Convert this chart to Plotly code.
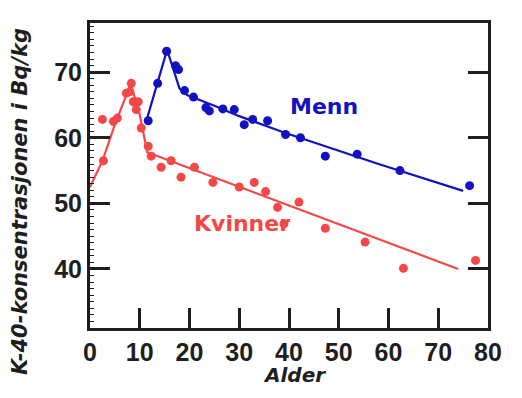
import plotly.graph_objects as go

# ---- data ----
menn_age = [11.7, 13.6, 15.4, 17.2, 17.8, 19.0, 20.8, 23.3, 24.0, 26.7, 29.0, 31.0, 32.7, 35.7, 39.3, 42.3, 47.3, 53.7, 62.3, 76.3]
menn_k40 = [62.6, 68.3, 73.2, 71.0, 70.4, 67.2, 66.2, 64.6, 64.1, 64.4, 64.3, 62.0, 62.8, 62.6, 60.5, 60.0, 57.2, 57.5, 55.0, 52.7]

kvinner_age = [2.5, 2.7, 4.7, 5.5, 7.3, 8.3, 8.0, 8.7, 9.3, 9.7, 10.3, 11.7, 12.3, 14.3, 16.3, 18.3, 21.0, 24.7, 30.0, 33.0, 35.3, 37.7, 39.0, 42.0, 47.3, 55.3, 63.0, 77.5]
kvinner_k40 = [62.8, 56.5, 62.5, 63.0, 66.8, 68.3, 67.0, 65.5, 64.3, 65.5, 61.5, 58.7, 57.2, 55.5, 56.5, 54.0, 55.5, 53.2, 52.5, 53.2, 51.8, 49.4, 46.9, 50.2, 46.2, 44.1, 40.1, 41.3]

menn_fit_age = [11.3, 13.0, 15.5, 18.0, 19.5, 25.0, 30.0, 39.0, 58.0, 75.0]
menn_fit_k40 = [62.5, 67.0, 73.4, 67.5, 66.5, 64.9, 63.3, 60.8, 56.0, 51.9]

kvinner_fit_age = [0.0, 2.5, 5.0, 8.2, 10.0, 11.5, 74.0]
kvinner_fit_k40 = [52.5, 56.5, 62.0, 68.3, 63.5, 57.8, 40.0]

x_ticks = [0, 10, 20, 30, 40, 50, 60, 70, 80]
y_ticks = [40, 50, 60, 70]
x_tick_text = ["<b>%d</b>" % v for v in x_ticks]
y_tick_text = ["<b>%d</b>" % v for v in y_ticks]

BLUE = "#1212c0"
RED = "#f24848"
INK = "#1e1e1e"
TICKFONT = dict(family="Liberation Sans, Arial", size=25, color=INK)
LABFONT = "DejaVu Sans, Liberation Sans, Arial"
Y_RANGE = [31.0, 77.5]

fig = go.Figure()
fig.add_trace(go.Scatter(x=menn_fit_age, y=menn_fit_k40, mode="lines", yaxis="y2",
                         line=dict(color=BLUE, width=2.2), hoverinfo="skip"))
fig.add_trace(go.Scatter(x=kvinner_fit_age, y=kvinner_fit_k40, mode="lines",
                         line=dict(color=RED, width=2.2), hoverinfo="skip"))
fig.add_trace(go.Scatter(x=menn_age, y=menn_k40, mode="markers",
                         marker=dict(color=BLUE, size=9), name="Menn"))
fig.add_trace(go.Scatter(x=kvinner_age, y=kvinner_k40, mode="markers",
                         marker=dict(color=RED, size=9), name="Kvinner"))

fig.update_layout(
    width=506, height=382,
    margin=dict(l=82, r=25, t=13, b=62),
    plot_bgcolor="white", paper_bgcolor="white",
    showlegend=False,
    xaxis=dict(range=[0, 80], tickvals=x_ticks, ticktext=x_tick_text, ticks="inside",
               ticklen=20, tickwidth=3, tickcolor=INK, showline=True, linewidth=3,
               linecolor=INK, mirror=True, showgrid=False, zeroline=False, tickfont=TICKFONT),
    yaxis=dict(range=Y_RANGE, tickvals=y_ticks, ticktext=y_tick_text, ticks="inside",
               ticklen=20, tickwidth=3, tickcolor=INK, showline=True, linewidth=3,
               linecolor=INK, mirror=True, showgrid=False, zeroline=False, tickfont=TICKFONT,
               minor=dict(ticks="inside", ticklen=4, tickwidth=1, tickmode="linear",
                          tick0=0, dtick=1, tickcolor=INK)),
    yaxis2=dict(range=Y_RANGE, tickvals=y_ticks, ticks="inside", ticklen=20, tickwidth=3,
                tickcolor=INK, overlaying="y", side="right", showticklabels=False,
                showline=False, showgrid=False, zeroline=False),
)

fig.add_annotation(x=47.1, y=64.8, xref="x", yref="y", text="<b>Menn</b>", showarrow=False,
                   font=dict(family=LABFONT, size=22, color=BLUE))
fig.add_annotation(x=30.5, y=47.0, xref="x", yref="y", text="<b>Kvinner</b>", showarrow=False,
                   font=dict(family=LABFONT, size=22, color=RED))
fig.add_annotation(x=0.515, y=-0.201, xref="paper", yref="paper", text="<b><i>Alder</i></b>",
                   showarrow=False, xanchor="center", yanchor="bottom",
                   font=dict(family=LABFONT, size=20, color=INK))
fig.add_annotation(x=-0.1754, y=0.414, xref="paper", yref="paper",
                   text="<b><i>K-40-konsentrasjonen i Bq/kg</i></b>",
                   showarrow=False, textangle=-90, xanchor="center", yanchor="middle",
                   font=dict(family=LABFONT, size=21, color=INK))

fig.write_html("out.html")
